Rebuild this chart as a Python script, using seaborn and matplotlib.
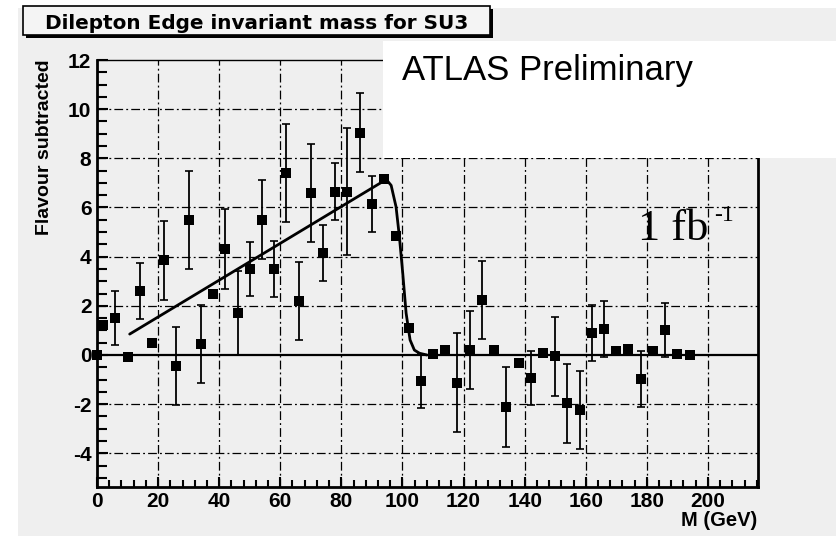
import matplotlib
matplotlib.use("Agg")
import matplotlib.pyplot as plt
from matplotlib.patches import Rectangle
from matplotlib.ticker import MultipleLocator
import seaborn as sns

# flavour-subtracted dilepton mass spectrum
mass = [0, 2, 6, 10, 14, 18, 22, 26, 30, 34, 38, 42, 46, 50, 54, 58, 62, 66, 70, 74,
        78, 82, 86, 90, 94, 98, 102, 106, 110, 114, 118, 122, 126, 130, 134, 138,
        142, 146, 150, 154, 158, 162, 166, 170, 174, 178, 182, 186, 190, 194]
counts = [0.0, 1.2, 1.5, -0.1, 2.6, 0.5, 3.85, -0.45, 5.5, 0.45, 2.5, 4.3, 1.7, 3.5,
          5.5, 3.5, 7.4, 2.2, 6.6, 4.15, 6.65, 6.65, 9.05, 6.15, 7.15, 4.85, 1.1,
          -1.04, 0.03, 0.2, -1.12, 0.2, 2.24, 0.2, -2.13, -0.34, -0.95, 0.1, -0.05,
          -1.97, -2.24, 0.9, 1.06, 0.16, 0.23, -0.98, 0.17, 1.0, 0.04, 0.0]
errors = [0.0, 0.2, 1.1, 0.0, 1.15, 0.0, 1.6, 1.6, 2.0, 1.6, 0.0, 1.63, 1.7, 1.1,
          1.6, 1.15, 2.0, 1.6, 2.0, 1.15, 1.15, 2.6, 1.6, 1.15, 0.0, 0.0, 0.0,
          1.1, 0.0, 0.0, 2.0, 1.6, 1.6, 0.0, 1.63, 0.0, 1.1, 0.0, 1.6, 1.6, 1.6,
          1.15, 1.15, 0.0, 0.0, 1.15, 0.0, 1.1, 0.0, 0.0]

# edge fit curve
fit_x = [10.7, 94.7, 96.3, 97.9, 99.0, 100.1, 101.2, 102.5, 103.9, 105.6, 108.0]
fit_y = [0.85, 7.14, 6.9, 6.03, 4.81, 3.32, 1.7, 0.61, 0.2, 0.07, 0.0]

x_ticks = [0, 20, 40, 60, 80, 100, 120, 140, 160, 180, 200]
y_ticks = [-4, -2, 0, 2, 4, 6, 8, 10, 12]

W, H = 836, 536
GREY = "#efefef"

sns.set_style("ticks")
plt.rcParams["font.family"] = ["Liberation Sans", "DejaVu Sans"]
plt.rcParams["axes.unicode_minus"] = False
for key in ("text.color", "axes.labelcolor", "xtick.color", "ytick.color",
            "axes.edgecolor"):
    plt.rcParams[key] = "black"

fig = plt.figure(figsize=(W / 100, H / 100), dpi=100, facecolor="white")


def fx(px):
    return px / W


def fy(py):
    return 1 - py / H


# grey pad background
fig.patches.append(Rectangle((fx(18), 0), 1 - fx(18), fy(8), transform=fig.transFigure,
                             facecolor=GREY, edgecolor="none", zorder=-10))

ax = fig.add_axes([fx(97), fy(487), fx(758 - 97), (487 - 60) / H])
ax.set_facecolor(GREY)
ax.set_xlim(0, 216.4)
ax.set_ylim(-5.37, 12)

grid_style = dict(color="black", lw=0.9, dashes=(7, 2.5, 1.5, 2.5), zorder=1)
for gx in x_ticks[1:]:
    ax.axvline(gx, **grid_style)
for gy in y_ticks:
    if gy not in (0, 12):
        ax.axhline(gy, **grid_style)
ax.axhline(0, color="black", lw=1.6, zorder=2)

ax.errorbar(mass, counts, yerr=errors, fmt="none", ecolor="black", elinewidth=1.3,
            capsize=3, capthick=1.2, zorder=3, clip_on=False)
sns.scatterplot(x=mass, y=counts, ax=ax, marker="s", s=52, color="black",
                edgecolor="black", linewidth=0, zorder=4, clip_on=False)
sns.lineplot(x=fit_x, y=fit_y, ax=ax, color="black", lw=2, sort=False,
             estimator=None, zorder=5)

ax.set_xticks(x_ticks)
ax.set_yticks(y_ticks)
ax.xaxis.set_minor_locator(MultipleLocator(4))
ax.yaxis.set_minor_locator(MultipleLocator(0.5))
ax.tick_params(axis="x", which="major", direction="in", length=7, width=1.5, pad=3.5,
               labelsize=15)
ax.tick_params(axis="x", which="minor", direction="in", length=5, width=1.5)
ax.tick_params(axis="y", which="major", direction="in", length=8, width=1.5, pad=4,
               labelsize=15)
ax.tick_params(axis="y", which="minor", direction="in", length=7, width=1.5)
for lab in ax.get_xticklabels() + ax.get_yticklabels():
    lab.set_fontweight("bold")
ax.set_xlabel("")
ax.set_ylabel("")

for side in ("left", "bottom", "right"):
    ax.spines[side].set_linewidth(2)
    ax.spines[side].set_color("black")
ax.spines["top"].set_linewidth(1)
ax.spines["top"].set_visible(True)
ax.spines["right"].set_visible(True)

fig.text(fx(757), fy(526), "M (GeV)", ha="right", va="baseline", fontsize=14.5,
         fontweight="bold")
fig.text(fx(45), fy(147), "Flavour subtracted", rotation=90, ha="center", va="center",
         fontsize=14, fontweight="bold")

# title box with shadow
fig.patches.append(Rectangle((fx(26), fy(38)), fx(467), 29 / H, transform=fig.transFigure,
                             facecolor="black", edgecolor="none", zorder=5))
fig.patches.append(Rectangle((fx(23), fy(35)), fx(467), 29 / H, transform=fig.transFigure,
                             facecolor="#f4f4f4", edgecolor="black", lw=1.2, zorder=6))
fig.text(fx(256.5), fy(29), "Dilepton Edge invariant mass for SU3", ha="center",
         va="baseline", fontsize=14.4, fontweight="bold", family="DejaVu Sans", zorder=7)

# white label box covering the top right
fig.patches.append(Rectangle((fx(383), fy(158)), 1 - fx(383), (158 - 41) / H,
                             transform=fig.transFigure, facecolor="white",
                             edgecolor="none", zorder=8))
fig.text(fx(402), fy(80), "ATLAS Preliminary", ha="left", va="baseline", fontsize=25,
         zorder=9)

fig.text(fx(638), fy(240), "1 fb", ha="left", va="baseline", fontsize=32,
         family="Liberation Serif", zorder=9)
fig.text(fx(714), fy(221), "-1", ha="left", va="baseline", fontsize=17,
         family="Liberation Serif", zorder=9)

fig.savefig("out.png", dpi=100, facecolor=fig.get_facecolor())
